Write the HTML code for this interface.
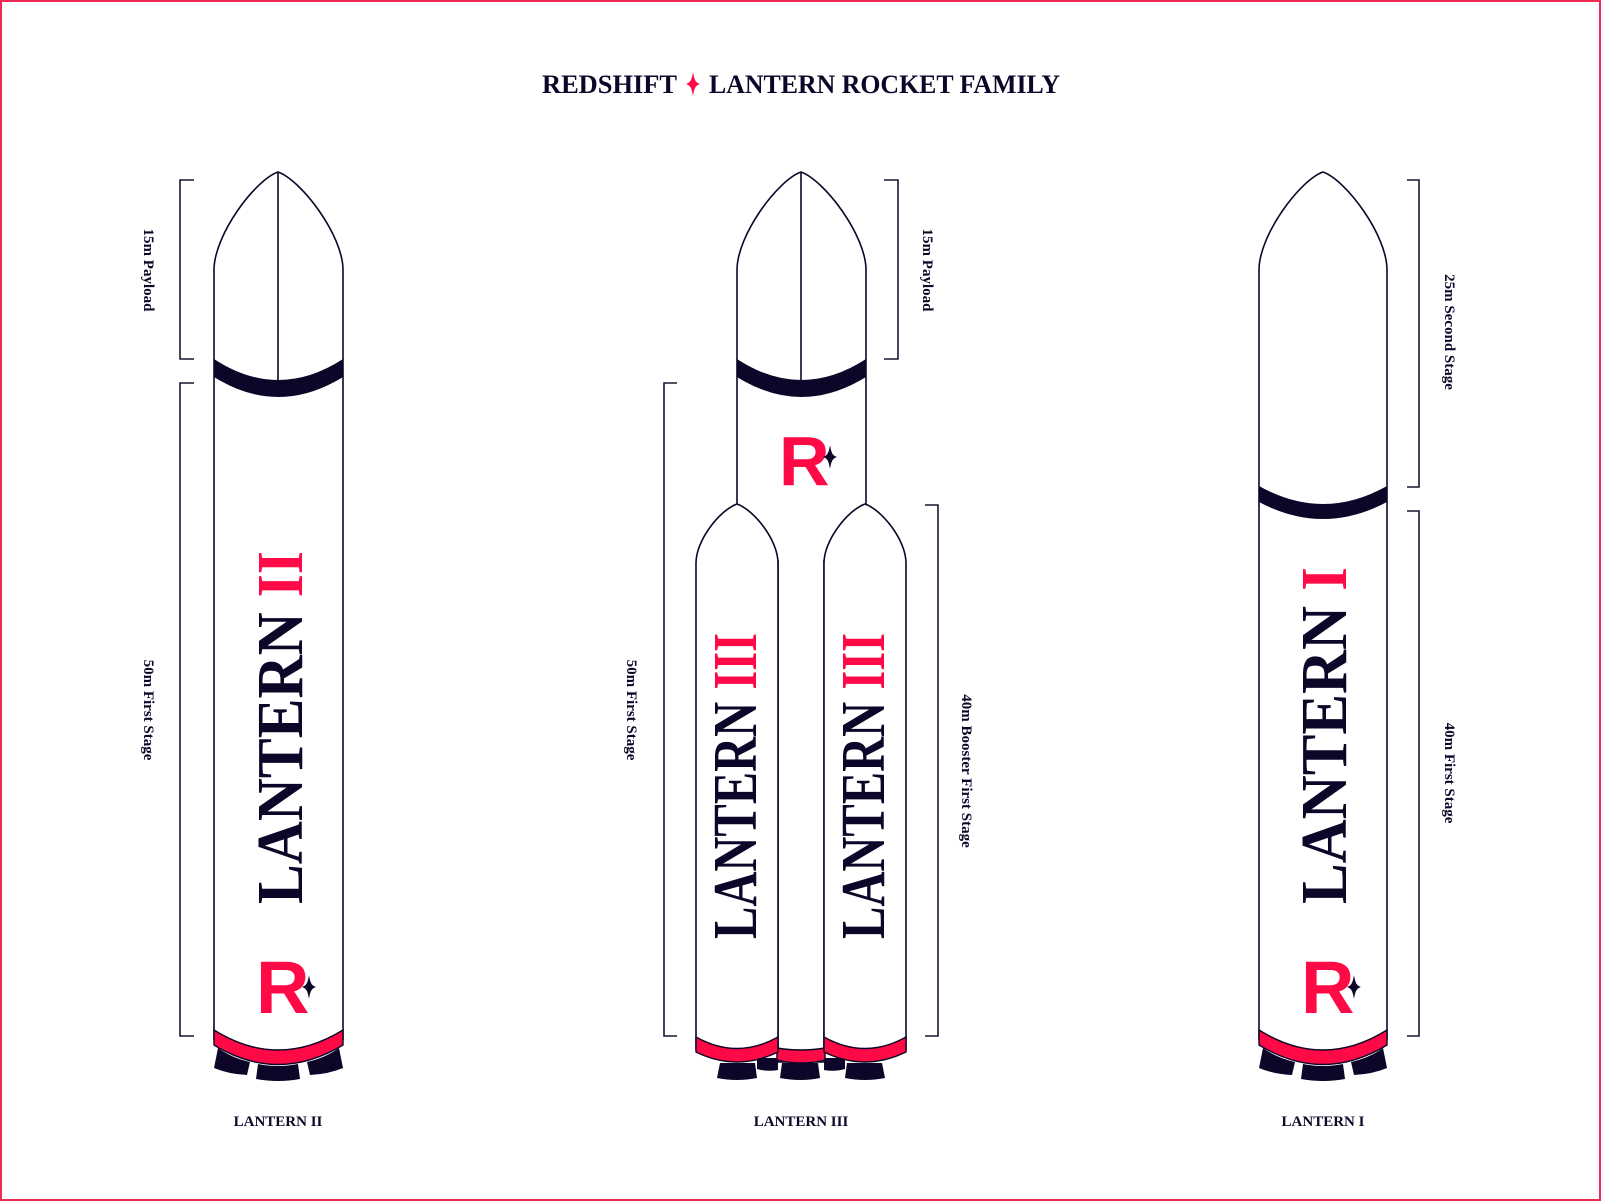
<!DOCTYPE html>
<html><head><meta charset="utf-8"><style>
html,body{margin:0;padding:0;background:#fff;}
svg{display:block;}
</style></head><body>
<svg width="1601" height="1201" viewBox="0 0 1601 1201" xmlns="http://www.w3.org/2000/svg">
<defs>
<path id="star" d="M0,-12 C1.5,-3 3,-1.5 7,0 C3,1.5 1.5,3 0,12 C-1.5,3 -3,1.5 -7,0 C-3,-1.5 -1.5,-3 0,-12 Z"/>
</defs>
<rect x="1" y="1" width="1599" height="1199" fill="#fff" stroke="#ee2a55" stroke-width="2"/>
<text x="677" y="93" text-anchor="end" font-family="Liberation Serif, serif" font-weight="bold" font-size="26" fill="#0d0628" textLength="135" lengthAdjust="spacingAndGlyphs">REDSHIFT</text>
<text x="709" y="93" font-family="Liberation Serif, serif" font-weight="bold" font-size="26" fill="#0d0628" textLength="351" lengthAdjust="spacingAndGlyphs">LANTERN ROCKET FAMILY</text>
<use href="#star" transform="translate(693,84)" fill="#ff0a47"/>

<g stroke="#1a1530" stroke-width="1.6" fill="none">
<path d="M194,180 H180 V359 H194"/>
<path d="M194,383 H180 V1036 H194"/>
<path d="M677,383 H664 V1036 H677"/>
<path d="M884,180 H898 V359 H884"/>
<path d="M925,505 H938 V1036 H925"/>
<path d="M1407,180 H1419 V487 H1407"/>
<path d="M1407,511 H1419 V1036 H1407"/>
</g>

<g font-family="Liberation Serif, serif" font-weight="bold" font-size="15" fill="#0d0628" text-anchor="middle">
<text transform="translate(144,270) rotate(90)">15m Payload</text>
<text transform="translate(144,710) rotate(90)">50m First Stage</text>
<text transform="translate(627,710) rotate(90)">50m First Stage</text>
<text transform="translate(923,270) rotate(90)">15m Payload</text>
<text transform="translate(962,771) rotate(90)">40m Booster First Stage</text>
<text transform="translate(1445,332) rotate(90)">25m Second Stage</text>
<text transform="translate(1445,773) rotate(90)">40m First Stage</text>
<text x="278" y="1126">LANTERN II</text>
<text x="801" y="1126">LANTERN III</text>
<text x="1323" y="1126">LANTERN I</text>
</g>

<!-- ROCKET 1 : LANTERN II -->
<g stroke="#0d0628" stroke-width="1.6">
<path d="M214,1040 V270 C214,235 255,180 278,172 C301,180 343,235 343,270 V1040" fill="#fff"/>
<line x1="278" y1="172" x2="278" y2="385"/>
</g>
<path d="M214,359 Q278,401 343,359 L343,377 Q278,417 214,377 Z" fill="#0d0628"/>
<path d="M214,1030 Q278,1070 343,1030 L343,1045 Q278,1084 214,1045 Z" fill="#ff0a47" stroke="#0d0628" stroke-width="1.4"/>
<g fill="#0d0628">
<path d="M218,1048 Q232,1058 250,1062 L247,1075 Q228,1074 214,1068 Z"/>
<path d="M339,1048 Q325,1058 307,1062 L310,1075 Q329,1074 343,1068 Z"/>
<path d="M258,1064 Q278,1068 298,1064 L300,1079 Q278,1083 256,1079 Z"/>
</g>
<text transform="matrix(0,-1,1,0,302,904)" font-family="Liberation Serif, serif" font-weight="bold" font-size="66" fill="#0d0628" textLength="353" lengthAdjust="spacingAndGlyphs">LANTERN <tspan fill="#ff0a47">II</tspan></text>
<text x="256" y="1013" font-family="Liberation Sans, sans-serif" font-weight="bold" font-size="74" fill="#ff0a47">R</text>
<use href="#star" transform="translate(309,987)" fill="#0d0628"/>

<!-- ROCKET 2 : LANTERN III -->
<g stroke="#0d0628" stroke-width="1.6">
<path d="M737,504 V270 C737,235 778,180 801,172 C824,180 866,235 866,270 V504" fill="#fff"/>
<path d="M778,560 V1062 H824 V560" fill="#fff"/>
<line x1="801" y1="172" x2="801" y2="385"/>
</g>
<path d="M737,359 Q801,401 866,359 L866,377 Q801,417 737,377 Z" fill="#0d0628"/>
<text x="779" y="485" font-family="Liberation Sans, sans-serif" font-weight="bold" font-size="70" fill="#ff0a47">R</text>
<use href="#star" transform="translate(830,457)" fill="#0d0628"/>
<g fill="#0d0628">
<path d="M757,1058 H778 V1070 Q767,1072 757,1069 Z"/>
<path d="M824,1058 H845 V1069 Q835,1072 824,1070 Z"/>
</g>
<path d="M777,1048 Q801,1052 825,1048 L825,1060 Q801,1066 777,1060 Z" fill="#ff0a47" stroke="#0d0628" stroke-width="1.4"/>
<g stroke="#0d0628" stroke-width="1.6">
<path d="M696,1050 V563 C696,540 720,510 737,504 C754,510 778,540 778,563 V1050" fill="#fff"/>
<path d="M824,1050 V563 C824,540 848,510 865,504 C882,510 906,540 906,563 V1050" fill="#fff"/>
</g>
<path d="M696,1037 Q737,1060 778,1037 L778,1052 Q737,1072 696,1052 Z" fill="#ff0a47" stroke="#0d0628" stroke-width="1.4"/>
<path d="M824,1037 Q865,1060 906,1037 L906,1052 Q865,1072 824,1052 Z" fill="#ff0a47" stroke="#0d0628" stroke-width="1.4"/>
<g fill="#0d0628">
<path d="M720,1063 H755 L757,1078 Q737,1082 717,1078 Z"/>
<path d="M782,1063 H818 L820,1078 Q801,1082 780,1078 Z"/>
<path d="M847,1063 H882 L885,1078 Q865,1082 845,1078 Z"/>
</g>
<text transform="matrix(0,-1,1,0,756,939)" font-family="Liberation Serif, serif" font-weight="bold" font-size="62" fill="#0d0628" textLength="306" lengthAdjust="spacingAndGlyphs">LANTERN <tspan fill="#ff0a47">III</tspan></text>
<text transform="matrix(0,-1,1,0,884,939)" font-family="Liberation Serif, serif" font-weight="bold" font-size="62" fill="#0d0628" textLength="306" lengthAdjust="spacingAndGlyphs">LANTERN <tspan fill="#ff0a47">III</tspan></text>

<!-- ROCKET 3 : LANTERN I -->
<g stroke="#0d0628" stroke-width="1.6">
<path d="M1259,1040 V270 C1259,235 1300,180 1323,172 C1346,180 1387,235 1387,270 V1040" fill="#fff"/>
</g>
<path d="M1259,486 Q1323,522 1387,486 L1387,502 Q1323,536 1259,502 Z" fill="#0d0628"/>
<path d="M1259,1030 Q1323,1070 1387,1030 L1387,1045 Q1323,1084 1259,1045 Z" fill="#ff0a47" stroke="#0d0628" stroke-width="1.4"/>
<g fill="#0d0628">
<path d="M1263,1048 Q1277,1058 1295,1062 L1292,1075 Q1273,1074 1259,1068 Z"/>
<path d="M1383,1048 Q1369,1058 1351,1062 L1354,1075 Q1373,1074 1387,1068 Z"/>
<path d="M1303,1064 Q1323,1068 1343,1064 L1345,1079 Q1323,1083 1301,1079 Z"/>
</g>
<text transform="matrix(0,-1,1,0,1346,904)" font-family="Liberation Serif, serif" font-weight="bold" font-size="66" fill="#0d0628" textLength="337" lengthAdjust="spacingAndGlyphs">LANTERN <tspan fill="#ff0a47">I</tspan></text>
<text x="1301" y="1013" font-family="Liberation Sans, sans-serif" font-weight="bold" font-size="74" fill="#ff0a47">R</text>
<use href="#star" transform="translate(1354,987)" fill="#0d0628"/>
</svg>
</body></html>
